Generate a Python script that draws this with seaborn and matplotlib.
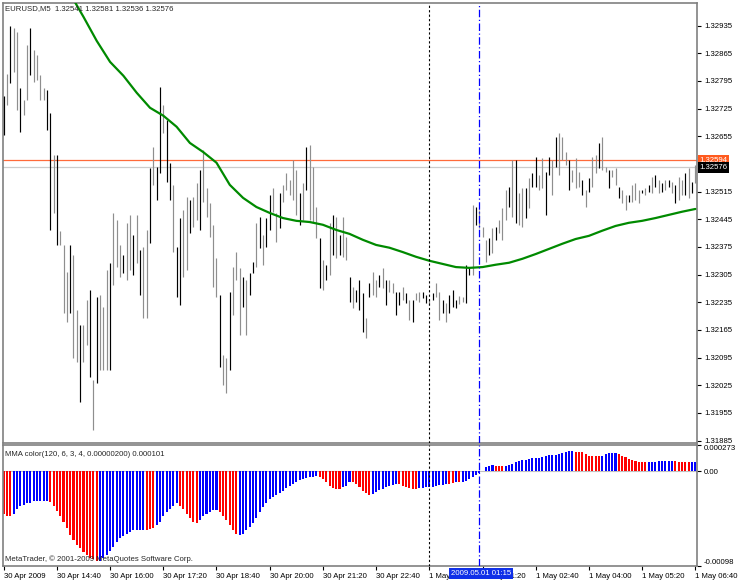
import numpy as np
import pandas as pd
import matplotlib
matplotlib.use("Agg")
import matplotlib.pyplot as plt
import matplotlib.transforms as mtransforms
import seaborn as sns

# EURUSD M5 bars, one every 5 minutes from 30 Apr 2009 13:20
highs = [
    1.32757, 1.32813, 1.32934, 1.32929, 1.32919, 1.32777, 1.32747, 1.32886, 1.32929, 1.32874,
    1.32861, 1.32810, 1.32777, 1.32772, 1.32714, 1.32608, 1.32608, 1.32416, 1.32380, 1.32312,
    1.32380, 1.32355, 1.32216, 1.32178, 1.32178, 1.32241, 1.32266, 1.32039, 1.32249, 1.32254,
    1.32223, 1.32317, 1.32335, 1.32461, 1.32443, 1.32380, 1.32355, 1.32436, 1.32456, 1.32405,
    1.32456, 1.32367, 1.32375, 1.32418, 1.32575, 1.32628, 1.32577, 1.32780, 1.32734, 1.32696,
    1.32588, 1.32532, 1.32375, 1.32448, 1.32469, 1.32502, 1.32494, 1.32502, 1.32537, 1.32570,
    1.32620, 1.32524, 1.32486, 1.32431, 1.32347, 1.32254, 1.32102, 1.32094, 1.32261, 1.32324,
    1.32362, 1.32322, 1.32299, 1.32292, 1.32309, 1.32337, 1.32436, 1.32451, 1.32405, 1.32448,
    1.32507, 1.32524, 1.32461, 1.32512, 1.32532, 1.32562, 1.32545, 1.32595, 1.32570, 1.32512,
    1.32537, 1.32628, 1.32633, 1.32577, 1.32476, 1.32398, 1.32342, 1.32330, 1.32436, 1.32456,
    1.32451, 1.32405, 1.32451, 1.32400, 1.32299, 1.32274, 1.32266, 1.32292, 1.32259, 1.32195,
    1.32284, 1.32312, 1.32292, 1.32304, 1.32322, 1.32292, 1.32292, 1.32284, 1.32261, 1.32261,
    1.32274, 1.32259, 1.32241, 1.32241, 1.32259, 1.32261, 1.32261, 1.32254, 1.32241, 1.32259,
    1.32284, 1.32261, 1.32241, 1.32233, 1.32254, 1.32266, 1.32241, 1.32251, 1.32249, 1.32330,
    1.32324, 1.32481, 1.32476, 1.32469, 1.32426, 1.32393, 1.32398, 1.32423, 1.32426, 1.32443,
    1.32474, 1.32519, 1.32527, 1.32595, 1.32595, 1.32512, 1.32524, 1.32524, 1.32550, 1.32562,
    1.32603, 1.32557, 1.32600, 1.32565, 1.32603, 1.32595, 1.32653, 1.32664, 1.32653, 1.32615,
    1.32595, 1.32570, 1.32600, 1.32565, 1.32545, 1.32519, 1.32550, 1.32603, 1.32608, 1.32638,
    1.32653, 1.32577, 1.32570, 1.32570, 1.32575, 1.32527, 1.32519, 1.32507, 1.32507, 1.32532,
    1.32537, 1.32519, 1.32519, 1.32524, 1.32532, 1.32552, 1.32557, 1.32545, 1.32537, 1.32545,
    1.32545, 1.32540, 1.32532, 1.32552, 1.32545, 1.32562, 1.32575, 1.32540, 1.32581,
]
lows = [
    1.32658, 1.32734, 1.32790, 1.32818, 1.32722, 1.32666, 1.32709, 1.32747, 1.32810, 1.32793,
    1.32798, 1.32747, 1.32747, 1.32671, 1.32418, 1.32461, 1.32380, 1.32380, 1.32208, 1.32185,
    1.32208, 1.32094, 1.32084, 1.31983, 1.32084, 1.32127, 1.32046, 1.31912, 1.32031, 1.32064,
    1.32064, 1.32064, 1.32064, 1.32279, 1.32324, 1.32299, 1.32309, 1.32292, 1.32317, 1.32304,
    1.32335, 1.32254, 1.32195, 1.32195, 1.32385, 1.32532, 1.32494, 1.32562, 1.32664, 1.32540,
    1.32494, 1.32362, 1.32249, 1.32228, 1.32299, 1.32317, 1.32411, 1.32426, 1.32443, 1.32418,
    1.32489, 1.32451, 1.32400, 1.32274, 1.32249, 1.32071, 1.32026, 1.32006, 1.32064, 1.32203,
    1.32292, 1.32152, 1.32223, 1.32152, 1.32254, 1.32309, 1.32324, 1.32373, 1.32330, 1.32375,
    1.32418, 1.32464, 1.32388, 1.32423, 1.32489, 1.32519, 1.32507, 1.32494, 1.32456, 1.32431,
    1.32443, 1.32519, 1.32443, 1.32438, 1.32398, 1.32271, 1.32266, 1.32292, 1.32304, 1.32355,
    1.32347, 1.32355, 1.32350, 1.32342, 1.32236, 1.32221, 1.32236, 1.32216, 1.32160, 1.32145,
    1.32249, 1.32254, 1.32249, 1.32274, 1.32271, 1.32228, 1.32261, 1.32259, 1.32203, 1.32228,
    1.32241, 1.32233, 1.32190, 1.32185, 1.32241, 1.32236, 1.32246, 1.32233, 1.32228, 1.32241,
    1.32249, 1.32190, 1.32208, 1.32185, 1.32208, 1.32223, 1.32221, 1.32231, 1.32236, 1.32233,
    1.32304, 1.32304, 1.32431, 1.32423, 1.32400, 1.32337, 1.32355, 1.32360, 1.32393, 1.32411,
    1.32393, 1.32443, 1.32476, 1.32451, 1.32436, 1.32431, 1.32426, 1.32448, 1.32474, 1.32527,
    1.32527, 1.32519, 1.32524, 1.32456, 1.32557, 1.32507, 1.32577, 1.32557, 1.32595, 1.32583,
    1.32519, 1.32540, 1.32524, 1.32527, 1.32507, 1.32476, 1.32514, 1.32527, 1.32562, 1.32575,
    1.32570, 1.32565, 1.32524, 1.32552, 1.32532, 1.32499, 1.32486, 1.32469, 1.32489, 1.32489,
    1.32494, 1.32486, 1.32512, 1.32507, 1.32514, 1.32512, 1.32527, 1.32512, 1.32514, 1.32519,
    1.32527, 1.32512, 1.32486, 1.32494, 1.32507, 1.32507, 1.32499, 1.32512, 1.32536,
]
# D = bar closed down (black), U = bar closed up (gray)
bar_dirs = (
    "DUDUUDUUDU" "UUUDDUDUUU" "DUUDUUDUDU" "UUDUUUDUUD" "UDUUDUDDUD"
    "DUDDUUDUUD" "UUUUUDUUDU" "UUDUDDUDUD" "DUUDUUUUUD" "UDUUUDUDUD"
    "UDUUDUDDDU" "DUUDUDUUDD" "UDUDUUDDUD" "UUDUDDDUUD" "DUDUUUDUDU"
    "UUDUDUUDUD" "DUUDDUDUUU" "DUUUDUDUUD" "UUDUUDUUDU" "UUDUDUDUDU"
    "DUDUUDUDU"
)

# moving average (green), sampled every 4 bars from bar 20
ma_idx = list(range(20, 209, 4))
ma_vals = [
    1.33015, 1.32957, 1.32896, 1.32843, 1.32808, 1.32765, 1.32727, 1.32707, 1.32679, 1.32638,
    1.32615, 1.32588, 1.32532, 1.32499, 1.32476, 1.32461, 1.32448, 1.32441, 1.32438, 1.32431,
    1.32418, 1.32408, 1.32393, 1.32380, 1.32373, 1.32362, 1.32350, 1.32340, 1.32332, 1.32324,
    1.32322, 1.32324, 1.32330, 1.32335, 1.32345, 1.32357, 1.32370, 1.32383, 1.32395, 1.32403,
    1.32416, 1.32428, 1.32436, 1.32441, 1.32448, 1.32456, 1.32464, 1.32471,
]

# MMA color histogram
osc_vals = [
    -0.000446, -0.000467, -0.000467, -0.000446, -0.000394, -0.000362, -0.000352, -0.000331, -0.000331, -0.000310,
    -0.000310, -0.000310, -0.000310, -0.000310, -0.000320, -0.000362, -0.000415, -0.000467, -0.000520, -0.000583,
    -0.000656, -0.000709, -0.000761, -0.000793, -0.000835, -0.000866, -0.000898, -0.000908, -0.000929, -0.000929,
    -0.000898, -0.000866, -0.000824, -0.000782, -0.000730, -0.000688, -0.000667, -0.000646, -0.000625, -0.000604,
    -0.000604, -0.000604, -0.000604, -0.000604, -0.000593, -0.000583, -0.000551, -0.000520, -0.000467, -0.000425,
    -0.000394, -0.000362, -0.000331, -0.000362, -0.000394, -0.000446, -0.000488, -0.000520, -0.000530, -0.000499,
    -0.000467, -0.000446, -0.000425, -0.000404, -0.000404, -0.000425, -0.000467, -0.000499, -0.000551, -0.000604,
    -0.000646, -0.000656, -0.000646, -0.000604, -0.000572, -0.000530, -0.000478, -0.000425, -0.000373, -0.000331,
    -0.000289, -0.000268, -0.000247, -0.000226, -0.000205, -0.000173, -0.000152, -0.000131, -0.000110, -0.000089,
    -0.000079, -0.000068, -0.000058, -0.000058, -0.000047, -0.000058, -0.000079, -0.000110, -0.000152, -0.000173,
    -0.000184, -0.000184, -0.000163, -0.000152, -0.000110, -0.000110, -0.000131, -0.000163, -0.000205, -0.000226,
    -0.000247, -0.000236, -0.000215, -0.000194, -0.000184, -0.000163, -0.000152, -0.000142, -0.000131, -0.000131,
    -0.000152, -0.000163, -0.000173, -0.000184, -0.000184, -0.000173, -0.000173, -0.000163, -0.000163, -0.000163,
    -0.000152, -0.000142, -0.000142, -0.000131, -0.000131, -0.000121, -0.000110, -0.000110, -0.000110, -0.000100,
    -0.000079, -0.000058, -0.000037, -0.000016, 0.000005, 0.000047, 0.000058, 0.000068, 0.000058, 0.000058,
    0.000058, 0.000058, 0.000068, 0.000079, 0.000100, 0.000110, 0.000121, 0.000121, 0.000131, 0.000142,
    0.000142, 0.000142, 0.000152, 0.000163, 0.000173, 0.000173, 0.000173, 0.000184, 0.000194, 0.000205,
    0.000215, 0.000215, 0.000205, 0.000205, 0.000205, 0.000184, 0.000163, 0.000163, 0.000163, 0.000163,
    0.000163, 0.000184, 0.000194, 0.000194, 0.000194, 0.000184, 0.000163, 0.000152, 0.000131, 0.000121,
    0.000110, 0.000100, 0.000100, 0.000100, 0.000100, 0.000100, 0.000100, 0.000110, 0.000110, 0.000110,
    0.000110, 0.000110, 0.000110, 0.000100, 0.000100, 0.000100, 0.000100, 0.000100, 0.000101,
]
osc_cols = (
    "RRRBBBBBBB" "BBBBRRRRRR" "RRRRRRRRRB" "BBBBBBBBBB" "BBBRRRBBBB"
    "BBBRRRRRRB" "BBBBBRRRRR" "RBBBBBBBBB" "BBBBBBBBBB" "BBBBBRRRRR"
    "RRBBBRRRRR" "RBBBBBBBBR" "RRRRRBBBBB" "BBBBRRBRBB" "BBBBBBBBRR"
    "RBBBBBBBBB" "BBBBBBBBBB" "BBRRRRRRRR" "BBBBBRRRRR" "RRRRBBBBBB"
    "BBRRRRRBB"
)

price_ticks = [1.32935, 1.32865, 1.32795, 1.32725, 1.32655, 1.32515, 1.32445, 1.32375,
               1.32305, 1.32235, 1.32165, 1.32095, 1.32025, 1.31955, 1.31885]
osc_ticks = [0.000273, 0.0, -0.00098]
osc_tick_labels = ["0.000273", "0.00", "-0.00098"]
time_idx = [0, 16, 32, 48, 64, 80, 96, 112, 128, 144, 160, 176, 192, 208]
time_labels = ["30 Apr 2009", "30 Apr 14:40", "30 Apr 16:00", "30 Apr 17:20", "30 Apr 18:40",
               "30 Apr 20:00", "30 Apr 21:20", "30 Apr 22:40", "1 May 2009", "1 May 01:20",
               "1 May 02:40", "1 May 04:00", "1 May 05:20", "1 May 06:40"]
bid_price = 1.32594
last_close = 1.32576
day_sep = 128
cross_idx = 143

sns.set_style("white")
plt.rcParams["font.family"] = ["Liberation Sans", "DejaVu Sans"]
fs = 5.6

fig = plt.figure(figsize=(7.5, 5.83), dpi=100)
ax = fig.add_axes([3 / 750, 1 - 443 / 583, 694 / 750, 440 / 583])
ax2 = fig.add_axes([3 / 750, 1 - 566 / 583, 694 / 750, 121 / 583])

bars = pd.DataFrame({"i": np.arange(len(highs)), "high": highs, "low": lows,
                     "dir": list(bar_dirs)})
for d, col in (("U", "#8e8e8e"), ("D", "black")):
    sub = bars[bars["dir"] == d]
    ax.vlines(sub["i"], sub["low"], sub["high"], color=col, lw=0.85, zorder=3)

ax.axhline(bid_price, color="#ff6a3a", lw=0.9, zorder=2)
ax.axhline(last_close, color="#cccccc", lw=0.9, zorder=2)
sns.lineplot(x=ma_idx, y=ma_vals, ax=ax, color="#008a00", lw=1.6, zorder=4)

osc = pd.DataFrame({"i": np.arange(len(osc_vals)), "v": osc_vals, "c": list(osc_cols)})
ax2.axhline(0, color="#c0c0c0", lw=0.8, zorder=0)
sns.barplot(data=osc, x="i", y="v", hue="c", palette={"R": "#ff0000", "B": "#0000ff"},
            dodge=False, native_scale=True, width=0.62, saturation=1, errorbar=None,
            legend=False, linewidth=0, ax=ax2)

for a in (ax, ax2):
    a.set_xlim(-0.2, 208.5)
    a.axvline(day_sep, color="black", lw=0.8, ls=(0, (2, 2)), zorder=5)
    a.axvline(cross_idx, color="#0000ff", lw=0.9, ls=(0, (6, 2, 1, 2)), zorder=5)
    a.set_xlabel("")
    a.set_ylabel("")
    for s in a.spines.values():
        s.set_color("#808080")
        s.set_linewidth(1.2)

ax.set_ylim(1.31879, 1.32992)
ax.yaxis.tick_right()
ax.set_yticks(price_ticks)
ax.set_yticklabels([f"{t:.5f}" for t in price_ticks])
ax.tick_params(axis="y", right=True, left=False, length=3, width=0.8, pad=2,
               labelsize=fs, colors="black")
ax.tick_params(axis="x", bottom=False, labelbottom=False)

ax2.set_ylim(-0.00098, 0.000273)
ax2.yaxis.tick_right()
ax2.set_yticks(osc_ticks)
ax2.set_yticklabels(osc_tick_labels)
ylabs = ax2.get_yticklabels()
ylabs[0].set_va("top")
ylabs[2].set_va("bottom")
ax2.tick_params(axis="y", right=True, left=False, length=3, width=0.8, pad=2,
                labelsize=fs, colors="black")
ax2.set_xticks(time_idx)
ax2.set_xticklabels(time_labels, ha="left")
ax2.tick_params(axis="x", bottom=True, length=3, width=0.8, pad=2, labelsize=fs,
                colors="black")

# price markers on the right scale
yblend = mtransforms.blended_transform_factory(ax.transAxes, ax.transData)
ax.text(1.004, bid_price, f"{bid_price:.5f}", transform=yblend, ha="left", va="center",
        fontsize=fs, color="white", zorder=10, clip_on=False,
        bbox=dict(boxstyle="square,pad=0.2", fc="#ff5a1e", ec="none"))
ax.text(1.004, last_close, f"{last_close:.5f}", transform=yblend, ha="left", va="center",
        fontsize=fs, color="white", zorder=11, clip_on=False,
        bbox=dict(boxstyle="square,pad=0.2", fc="black", ec="none"))

xblend = mtransforms.blended_transform_factory(ax2.transData, ax2.transAxes)
ax2.text(cross_idx + 0.6, -0.035, "2009.05.01 01:15", transform=xblend, ha="center", va="top",
         fontsize=fs, color="white", zorder=20, clip_on=False,
         bbox=dict(boxstyle="square,pad=0.25", fc="#1030e8", ec="none"))

fig.text(5 / 750, 1 - 9 / 583, "EURUSD,M5  1.32541 1.32581 1.32536 1.32576",
         fontsize=fs, va="center", ha="left")
fig.text(5 / 750, 1 - 455 / 583, "MMA color(120, 6, 3, 4, 0.00000200) 0.000101",
         fontsize=fs, va="center", ha="left")
fig.text(5 / 750, 1 - 559 / 583, "MetaTrader, © 2001-2009 MetaQuotes Software Corp.",
         fontsize=fs, va="center", ha="left", zorder=20)

fig.savefig("out.png", dpi=100)
